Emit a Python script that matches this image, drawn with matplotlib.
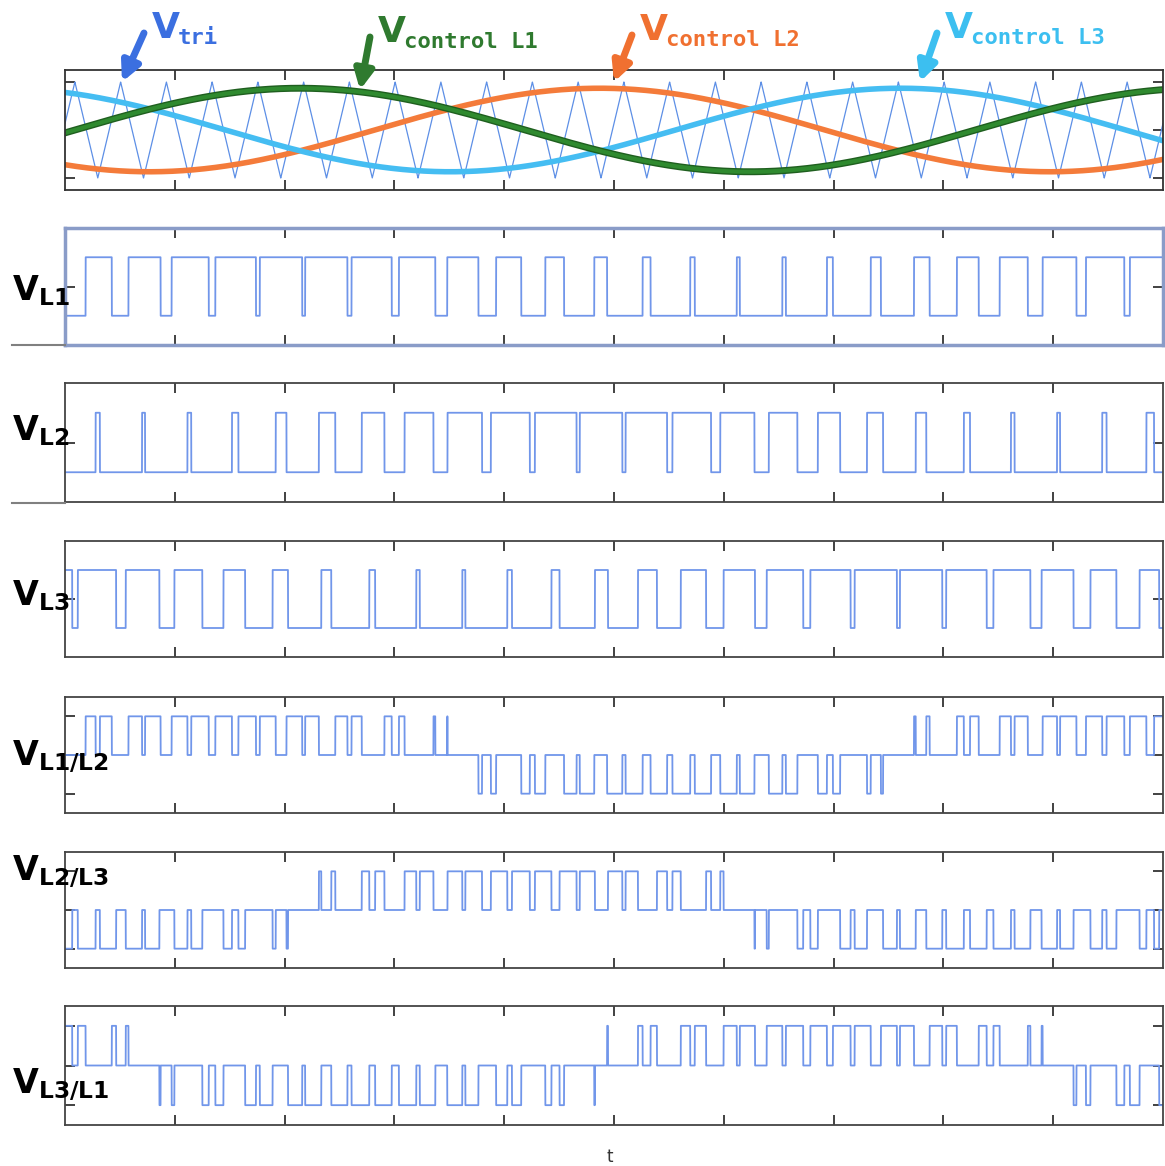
import numpy as np
import matplotlib
matplotlib.use("Agg")
import matplotlib.pyplot as plt
from matplotlib.lines import Line2D

# carrier and control parameters (t runs 0..1 across the axes)
n_carrier = 24          # triangle periods across the plot
carrier_peak0 = 0.009   # time of the first triangle peak
sine_period = 0.82      # fundamental period of the control signals
peak_L1 = 0.214         # time of the maximum of V control L1
peak_L2 = 0.487
peak_L3 = 0.761
m_index = 0.87          # control amplitude / carrier amplitude

panel_labels = ["L1", "L2", "L3", "L1/L2", "L2/L3", "L3/L1"]

t = np.linspace(0, 1, 20001)
ph = ((t - carrier_peak0) * n_carrier) % 1.0
v_tri = 4 * np.abs(ph - 0.5) - 1
ctrl1 = m_index * np.cos(2 * np.pi * (t - peak_L1) / sine_period)
ctrl2 = m_index * np.cos(2 * np.pi * (t - peak_L2) / sine_period)
ctrl3 = m_index * np.cos(2 * np.pi * (t - peak_L3) / sine_period)

vl1 = (ctrl1 > v_tri).astype(float)
vl2 = (ctrl2 > v_tri).astype(float)
vl3 = (ctrl3 > v_tri).astype(float)
signals = [vl1, vl2, vl3, vl1 - vl2, vl2 - vl3, vl3 - vl1]

W, H = 1165, 1166
fig = plt.figure(figsize=(W / 100, H / 100), dpi=100)

def box(y0, y1, x0=65, x1=1163):
    return [x0 / W, 1 - y1 / H, (x1 - x0) / W, (y1 - y0) / H]

pwm_col = "#7196ea"

def style(ax, yt, col="#444444", lw=1.3):
    ax.set_xlim(0, 1)
    ax.set_xticks(np.arange(0.1, 1.0, 0.1))
    ax.set_yticks(yt)
    ax.tick_params(direction="in", length=7, width=1.3, top=True, right=True,
                   labelbottom=False, labelleft=False, colors="#333333")
    for s in ax.spines.values():
        s.set_color(col)
        s.set_linewidth(lw)

# top panel: carrier and control signals
ax0 = fig.add_axes(box(70, 190))
ax0.plot(t, v_tri, color="#5d8fe6", lw=0.9)
ax0.plot(t, ctrl2, color="#f47b3a", lw=4)
ax0.plot(t, ctrl3, color="#45bdf2", lw=4)
ax0.plot(t, ctrl1, color="#1f5f1f", lw=5)
ax0.plot(t, ctrl1, color="#2f8a2f", lw=3)
ax0.set_ylim(-1.25, 1.25)
style(ax0, [-1, 0, 1], col="#333333")

def top_label(x, y, sub, col, ax_xy):
    fig.text(x / W, 1 - y / H, "V", color=col, fontsize=26, fontweight="bold",
             ha="left", va="baseline", family="DejaVu Sans")
    fig.text((x + 26) / W, 1 - (y + 6) / H, sub, color=col, fontsize=16,
             fontweight="bold", ha="left", va="baseline", family="DejaVu Sans Mono")
    ax0.annotate("", xy=ax_xy, xycoords="figure pixels",
                 xytext=(x - 8, H - y + 5), textcoords="figure pixels",
                 arrowprops=dict(arrowstyle="-|>", color=col, lw=5, mutation_scale=28,
                                 shrinkA=0, shrinkB=0), annotation_clip=False)

top_label(152, 38, "tri", "#3b6fe0", (122, H - 82))
top_label(378, 42, "control L1", "#2f7a2f", (360, H - 90))
top_label(640, 40, "control L2", "#f07030", (614, H - 82))
top_label(945, 38, "control L3", "#3cbff0", (920, H - 82))

# switching waveforms
boxes = [(228, 345), (383, 502), (541, 657), (697, 813), (852, 968), (1006, 1125)]
label_y = [300, 440, 605, 765, 880, 1093]
for i, (sig, (y0, y1)) in enumerate(zip(signals, boxes)):
    ax = fig.add_axes(box(y0, y1))
    ax.plot(t, sig, color=pwm_col, lw=1.3)
    if i < 3:
        ax.set_ylim(-0.5, 1.5)
        yt = [0.5]
    else:
        ax.set_ylim(-1.5, 1.5)
        yt = [-1, 0, 1]
    if i == 0:
        style(ax, yt, col="#8a9cc8", lw=2.5)
    else:
        style(ax, yt)
    fig.text(12 / W, 1 - label_y[i] / H, r"$\mathbf{V}_{\mathbf{%s}}$" % panel_labels[i],
             fontsize=24, color="black", ha="left", va="baseline")

for yy in (345, 503):
    fig.add_artist(Line2D([12 / W, 65 / W], [1 - yy / H, 1 - yy / H],
                          transform=fig.transFigure, color="#808080", lw=1.5))

fig.text(610 / W, 1 - 1162 / H, "t", fontsize=12, color="#333333", ha="center")

fig.savefig("out.png", dpi=100)
